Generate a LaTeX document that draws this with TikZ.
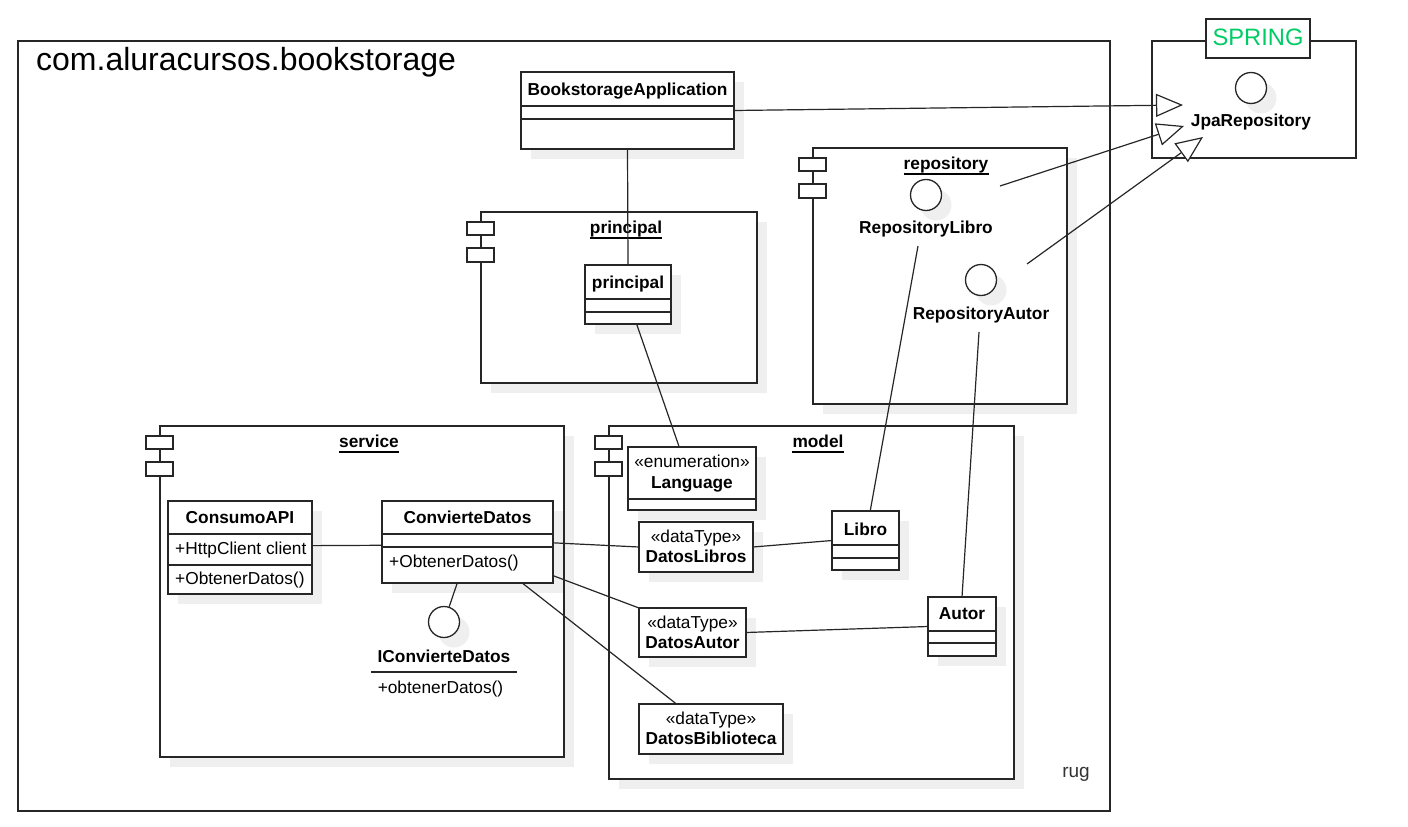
\documentclass[tikz,border=0pt]{standalone}
\usepackage{fontspec}
\setmainfont{Liberation Sans}
\usepackage{xcolor}
\usepackage{tikz}
\usetikzlibrary{arrows.meta, fit, calc}

\definecolor{springgreen}{HTML}{00CC66}
\definecolor{shadowgray}{HTML}{EFEFEF}

\newcommand{\basefont}{\fontsize{17.3pt}{20pt}\selectfont}

\tikzset{
  frame/.style={draw=black!85, line width=1.3pt},
  box/.style={frame, fill=white, inner sep=0pt, outer sep=0pt},
  shade/.style={fill=shadowgray},
  cname/.style={font=\basefont\bfseries, inner sep=0pt, anchor=base},
  ctext/.style={font=\basefont, inner sep=0pt, anchor=base},
  assoc/.style={draw=black!85, line width=1.2pt},
  realize/.style={assoc, -{Triangle[length=27pt, width=23pt, fill=white]}},
  iface/.style={circle, frame, fill=white, minimum size=31pt, inner sep=0pt},
}

% class box: name, x1, y1, x2, y2, first and second separator
\newcommand{\umlclass}[7]{%
  \fill[shade] (#2+10,#3+10) rectangle (#4+10,#5+10);
  \node[box, fit={(#2,#3) (#4,#5)}] (#1) {};
  \draw[frame] (#2,#6) -- (#4,#6);
  \draw[frame] (#2,#7) -- (#4,#7);
}

% data type box: name, x1, y1, x2, y2, label
\newcommand{\umldatatype}[6]{%
  \fill[shade] (#2+10,#3+10) rectangle (#4+10,#5+10);
  \node[box, fit={(#2,#3) (#4,#5)}] (#1) {};
  \node[ctext] (#1-st) at ({(#2+#4)/2},#3+20) {«dataType»};
  \node[cname] (#1-name) at ({(#2+#4)/2},#3+40) {#6};
}

% component package with its two tabs
\newcommand{\umlpackage}[5]{%
  \fill[shade] (#2+10,#3+10) rectangle (#4+10,#5+10);
  \node[box, fit={(#2,#3) (#4,#5)}] (#1) {};
  \draw[box] (#2-14,#3+10) rectangle (#2+13,#3+23);
  \draw[box] (#2-14,#3+36) rectangle (#2+13,#3+50);
}

% underlined package title
\newcommand{\pkglabel}[4]{%
  \node[cname] (#1) at (#2,#3) {#4};
  \draw[line width=1.3pt] ([yshift=-5pt]#1.base west) -- ([yshift=-5pt]#1.base east);
}

\begin{document}
\begin{tikzpicture}[x=1pt, y=-1pt, font=\basefont]
  \useasboundingbox (0,0) rectangle (1408,827);

  % Outer package
  \node[box, fit={(18,41) (1110,811)}] (bookstorage) {};
  \node[ctext, anchor=base west, font=\fontsize{32pt}{36pt}\selectfont] (bookstorage-lbl) at (36,70) {com.aluracursos.bookstorage};
  \node[ctext, text=black!80, font=\fontsize{19pt}{22pt}\selectfont] (rug) at (1076,777) {rug};

  % Spring frame
  \node[frame, fit={(1152,41) (1356,158)}, inner sep=0pt] (spring) {};
  \node[box, fit={(1206,19) (1310,58)}] (spring-tag) {};
  \node[ctext, font=\fontsize{23.7pt}{28pt}\selectfont, text=springgreen] (spring-lbl) at (1258,45) {SPRING};
  \fill[shade] (1261,98) circle (15.5pt);
  \node[iface] (jpa) at (1251,88) {};
  \node[cname] (jpa-lbl) at (1251,126) {JpaRepository};

  % Main class
  \umlclass{app}{521}{72}{734}{149}{106}{119}
  \node[cname] (app-name) at (627.5,95) {BookstorageApplication};

  % principal
  \umlpackage{principal-pkg}{481}{212}{757}{383}
  \pkglabel{principal-pkg-lbl}{626}{233}{principal}
  \umlclass{principal}{585}{265}{671}{324}{299}{312}
  \node[cname] (principal-name) at (628,288) {principal};

  % repository
  \umlpackage{repository}{813}{148}{1067}{404}
  \pkglabel{repository-lbl}{946}{169}{repository}
  \fill[shade] (936,205) circle (15.5pt);
  \node[iface] (repo-libro) at (926,195) {};
  \node[cname] (repo-libro-lbl) at (926,233) {RepositoryLibro};
  \fill[shade] (991,290) circle (15.5pt);
  \node[iface] (repo-autor) at (981,280) {};
  \node[cname] (repo-autor-lbl) at (981,319) {RepositoryAutor};

  % service
  \umlpackage{service}{160}{426}{564}{757}
  \pkglabel{service-lbl}{369}{447}{service}
  \umlclass{consumo}{168}{501}{312}{594}{534}{565}
  \node[cname] (consumo-name) at (240,523) {ConsumoAPI};
  \node[ctext, anchor=base west] (consumo-attr) at (175,554) {+HttpClient client};
  \node[ctext, anchor=base west] (consumo-op) at (175,584) {+ObtenerDatos()};
  \umlclass{convierte}{382}{501}{553}{583}{534}{547}
  \node[cname] (convierte-name) at (467.5,523) {ConvierteDatos};
  \node[ctext, anchor=base west] (convierte-op) at (389,567) {+ObtenerDatos()};
  \fill[shade] (454,632) circle (15.5pt);
  \node[iface] (iconvierte) at (444,622) {};
  \node[cname] (iconvierte-lbl) at (444,662) {IConvierteDatos};
  \draw[frame] (371,672) -- (517,672);
  \node[ctext] (iconvierte-op) at (440.5,693) {+obtenerDatos()};

  % model
  \umlpackage{model}{609}{426}{1014}{779}
  \pkglabel{model-lbl}{818}{447}{model}
  \fill[shade] (638,457) rectangle (766,520);
  \node[box, fit={(628,447) (756,510)}] (language) {};
  \draw[frame] (628,499) -- (756,499);
  \node[ctext] (language-st) at (692,467) {«enumeration»};
  \node[cname] (language-name) at (692,488) {Language};
  \umldatatype{datoslibros}{639}{522}{753}{572}{DatosLibros}
  \umldatatype{datosautor}{639}{608}{746}{657}{DatosAutor}
  \umldatatype{datosbiblioteca}{639}{704}{783}{754}{DatosBiblioteca}
  \umlclass{libro}{832}{511}{899}{570}{545}{558}
  \node[cname] (libro-name) at (865.5,535) {Libro};
  \umlclass{autor}{928}{597}{996}{656}{631}{643}
  \node[cname] (autor-name) at (962,619) {Autor};

  % Realizations
  \coordinate (jpa-tip1) at (1183,105);
  \coordinate (jpa-tip2) at (1184,126);
  \coordinate (jpa-tip3) at (1203,137);
  \coordinate (repo-libro-out) at (1000,186);
  \coordinate (repo-autor-out) at (1027,264);
  \draw[realize] (app.east) -- (jpa-tip1);
  \draw[realize] (repo-libro-out) -- (jpa-tip2);
  \draw[realize] (repo-autor-out) -- (jpa-tip3);

  % Associations
  \coordinate (repo-libro-foot) at (918,246);
  \coordinate (repo-autor-foot) at (979,332);
  \draw[assoc] (app.south) -- (principal.north);
  \draw[assoc] ($(principal.south west)!0.6!(principal.south east)$) -- ($(language.north west)!0.4!(language.north east)$);
  \draw[assoc] (repo-libro-foot) -- ($(libro.north west)!0.57!(libro.north east)$);
  \draw[assoc] (repo-autor-foot) -- (autor.north);
  \draw[assoc] ($(consumo.north east)!0.48!(consumo.south east)$) -- ($(convierte.north west)!0.54!(convierte.south west)$);
  \draw[assoc] ($(convierte.south west)!0.44!(convierte.south east)$) -- (iconvierte);
  \draw[assoc] ($(convierte.north east)!0.51!(convierte.south east)$) -- (datoslibros.west);
  \draw[assoc] ($(convierte.north east)!0.91!(convierte.south east)$) -- (datosautor.north west);
  \draw[assoc] ($(convierte.south west)!0.82!(convierte.south east)$) -- ($(datosbiblioteca.north west)!0.26!(datosbiblioteca.north east)$);
  \draw[assoc] (datoslibros.east) -- (libro.west);
  \draw[assoc] (datosautor.east) -- (autor.west);
\end{tikzpicture}
\end{document}
